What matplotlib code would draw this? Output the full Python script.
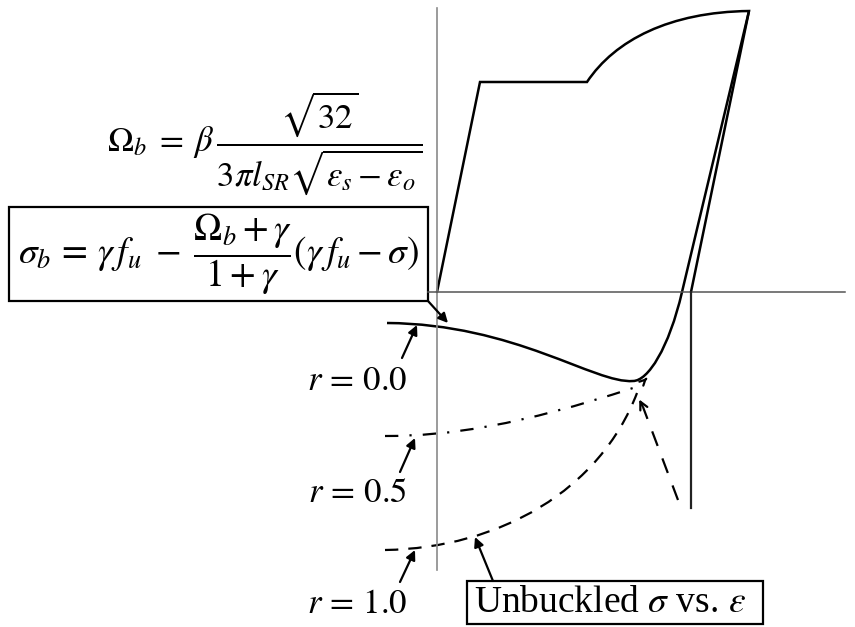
import matplotlib
matplotlib.use("Agg")
import matplotlib.pyplot as plt
from matplotlib.path import Path
from matplotlib.patches import PathPatch, Rectangle

plt.rcParams['mathtext.fontset'] = 'stix'
plt.rcParams['font.family'] = ['Liberation Serif', 'DejaVu Serif']

W, H = 855, 627

# ---- schematic geometry (canvas units: x right, y down) ----
# axes
v_axis_x, v_axis_y = [437, 437], [8, 570]
h_axis_x, h_axis_y = [428, 845], [292, 292]
drop_x, drop_y = [691, 691], [292, 508]

# monotonic/backbone loop: origin -> yield -> plateau -> hardening (bezier) -> unload
loop_pts = [(437, 292), (480, 82), (587, 82),
            (615, 40), (670, 12), (749, 11),
            (691, 292)]
loop_codes = [Path.MOVETO, Path.LINETO, Path.LINETO,
              Path.CURVE4, Path.CURVE4, Path.CURVE4,
              Path.LINETO]

# r = 0.0 buckled curve (solid), reloading up to peak
r00_pts = [(387, 323), (515, 324), (595, 384), (633, 381),
           (648, 381), (669, 348), (682, 292), (749, 11)]
r00_codes = [Path.MOVETO, Path.CURVE4, Path.CURVE4, Path.CURVE4,
             Path.CURVE4, Path.CURVE4, Path.CURVE4, Path.LINETO]

# r = 0.5 (dash-dot)
r05_pts = [(385, 436), (450, 436), (520, 425), (633, 388)]
# r = 1.0 (dashed)
r10_pts = [(385, 550), (500, 548), (600, 490), (637, 393)]
bez_codes = [Path.MOVETO, Path.CURVE4, Path.CURVE4, Path.CURVE4]

# unbuckled descending branch (dashed)
unb_x, unb_y = [678, 643], [500, 407]

# labels
r_labels = [r'$r\,=\,0.0$', r'$r\,=\,0.5$', r'$r\,=\,1.0$']
r_label_xy = [(407, 390), (407, 502), (407, 613)]
r_arrow_from = [(402, 358), (400, 472), (400, 582)]
r_arrow_to = [(417, 325), (415, 438), (415, 550)]

eq_omega = r'$\Omega_b \;=\; \beta\,\dfrac{\sqrt{32}}{3\pi l_{SR}\sqrt{\varepsilon_s - \varepsilon_o}}$'
eq_sigma = (r'$\sigma_b\,=\,\gamma\,f_u\;-\;\dfrac{\Omega_b + \gamma}{1+\gamma}'
            r'\left(\gamma\,f_u - \sigma\right)$')
unb_label = r'Unbuckled $\sigma$ vs. $\varepsilon$'

fig = plt.figure(figsize=(W / 100, H / 100), dpi=100)
ax = fig.add_axes([0, 0, 1, 1])
ax.set_xlim(0, W)
ax.set_ylim(H, 0)
ax.axis('off')

ax.plot(v_axis_x, v_axis_y, color='#8a8a8a', lw=1.2)
ax.plot(h_axis_x, h_axis_y, color='#555555', lw=1.1)
ax.plot(drop_x, drop_y, color='#222222', lw=1.6)

ax.add_patch(PathPatch(Path(loop_pts, loop_codes), fill=False, lw=1.8, color='black', capstyle='round', joinstyle='miter'))
ax.add_patch(PathPatch(Path(r00_pts, r00_codes), fill=False, lw=1.8, color='black'))
ax.add_patch(PathPatch(Path(r05_pts, bez_codes), fill=False, lw=1.6, color='black',
                       linestyle=(0, (6, 5, 1, 5))))
ax.add_patch(PathPatch(Path(r10_pts, bez_codes), fill=False, lw=1.6, color='black',
                       linestyle=(0, (6, 4.5))))
ax.plot(unb_x, unb_y, color='black', lw=1.6, linestyle=(0, (7, 6)))
ax.annotate('', xy=(638, 397), xytext=(644, 409),
            arrowprops=dict(arrowstyle='->', lw=1.6, color='black', mutation_scale=14))
# small direction arrow on the solid curve
ax.annotate('', xy=(649, 376), xytext=(644, 381),
            arrowprops=dict(arrowstyle='->', lw=1.6, color='black', mutation_scale=10))

# r labels
for lab, (tx, ty), p0, p1 in zip(r_labels, r_label_xy, r_arrow_from, r_arrow_to):
    ax.text(tx, ty, lab, fontsize=25, ha='right', va='baseline')
    ax.annotate('', xy=p1, xytext=p0,
                arrowprops=dict(arrowstyle='-|>', lw=1.6, color='black', mutation_scale=14,
                                shrinkA=0, shrinkB=0))

# equations
ax.text(107, 143, eq_omega, fontsize=25, ha='left', va='center')
ax.add_patch(Rectangle((9, 207), 419, 94, fill=False, lw=1.6, edgecolor='black'))
ax.text(18, 254, eq_sigma, fontsize=27, ha='left', va='center')
ax.annotate('', xy=(448, 323), xytext=(428, 301),
            arrowprops=dict(arrowstyle='-|>', lw=1.6, color='black', mutation_scale=14,
                            shrinkA=0, shrinkB=0))

# unbuckled label
ax.add_patch(Rectangle((467, 581), 296, 43, fill=False, lw=1.6, edgecolor='black'))
ax.text(474, 603, unb_label, fontsize=27, ha='left', va='center')
ax.annotate('', xy=(475, 537), xytext=(493, 581),
            arrowprops=dict(arrowstyle='-|>', lw=1.6, color='black', mutation_scale=14,
                            shrinkA=0, shrinkB=0))

fig.savefig('out.png', dpi=100)
